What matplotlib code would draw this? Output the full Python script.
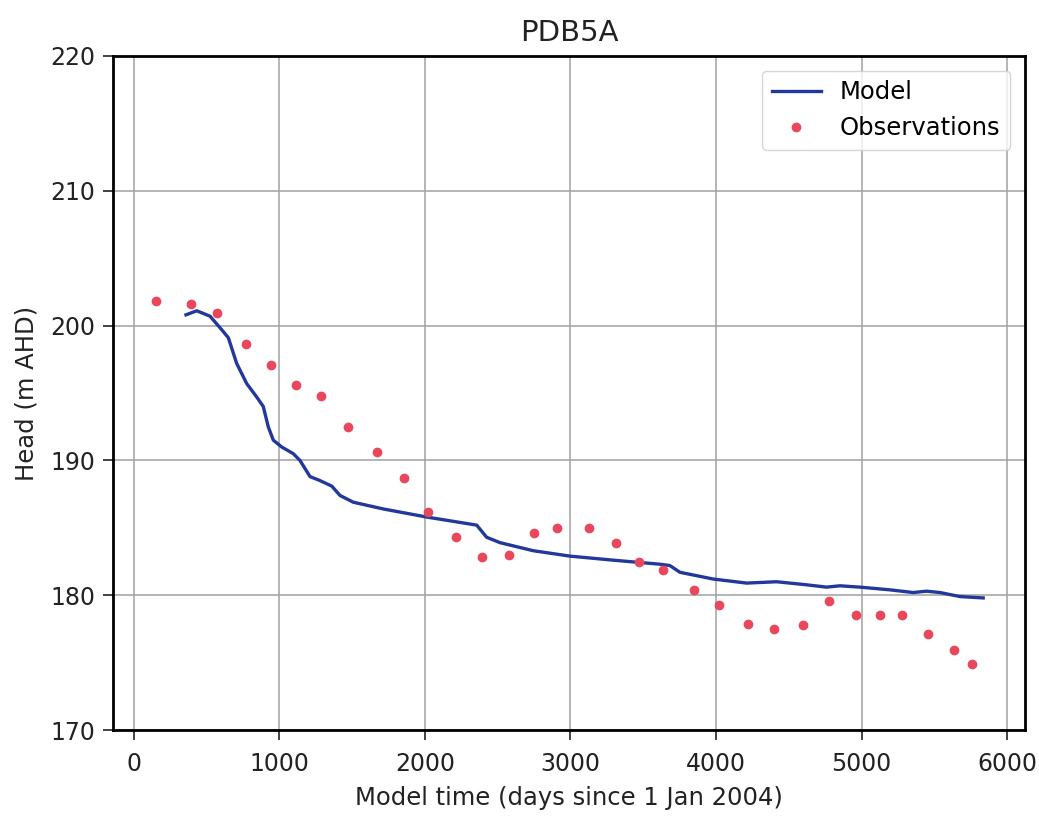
import matplotlib
matplotlib.use("Agg")
import matplotlib.pyplot as plt

# Observations (days since 1 Jan 2004, head m AHD)
obs_days = [153, 391, 570, 769, 943, 1117, 1288, 1474, 1669, 1857, 2024, 2214,
            2390, 2578, 2751, 2905, 3129, 3310, 3473, 3637, 3848, 4022, 4217, 4398,
            4599, 4776, 4964, 5126, 5277, 5457, 5634, 5760]
obs_head = [201.8, 201.6, 200.9, 198.6, 197.1, 195.6, 194.8, 192.5, 190.6, 188.7, 186.2, 184.3,
            182.85, 182.95, 184.6, 185.0, 185.0, 183.9, 182.5, 181.9, 180.4, 179.3, 177.9, 177.5,
            177.8, 179.6, 178.5, 178.5, 178.5, 177.1, 175.9, 174.9]

# Model series
model_days = [359, 433, 524, 604, 650, 707, 776, 845, 890, 924, 959, 1016, 1096, 1142,
              1211, 1280, 1360, 1417, 1508, 1714, 2012, 2356, 2424, 2516, 2745, 2997,
              3294, 3615, 3683, 3752, 3981, 4210, 4416, 4599, 4760, 4851, 4988, 5194,
              5354, 5446, 5538, 5676, 5835]
model_head = [200.8, 201.1, 200.7, 199.7, 199.1, 197.2, 195.7, 194.7, 194.0, 192.5, 191.5,
              191.0, 190.5, 190.0, 188.8, 188.5, 188.1, 187.4, 186.9, 186.4, 185.8, 185.2,
              184.3, 183.9, 183.3, 182.9, 182.6, 182.3, 182.2, 181.7, 181.2, 180.9, 181.0,
              180.8, 180.6, 180.7, 180.6, 180.4, 180.2, 180.3, 180.2, 179.9, 179.8]

fig = plt.figure(figsize=(10.39, 8.21), dpi=100)
ax = fig.add_axes([0.1088, 0.1108, 0.8777, 0.821])

ax.plot(model_days, model_head, color="#22389a", lw=2.4, label="Model", zorder=3)
ax.plot(obs_days, obs_head, "o", color="#e8475c", ms=6, label="Observations", zorder=4)

ax.set_xlim(-142, 6122)
ax.set_ylim(170, 220)
ax.set_xticks(range(0, 6001, 1000))
ax.set_yticks(range(170, 221, 10))
ax.grid(True, color="#a0a0a0", lw=1.1)

for s in ax.spines.values():
    s.set_linewidth(2)
    s.set_color("black")

ax.tick_params(labelsize=17, length=7, width=1.2, colors="#222222")
ax.tick_params(axis="x", pad=9)
ax.tick_params(axis="y", pad=6)
ax.set_xlabel("Model time (days since 1 Jan 2004)", fontsize=17.5, color="#222222", labelpad=7)
ax.set_ylabel("Head (m AHD)", fontsize=17.5, color="#222222", labelpad=8)
ax.set_title("PDB5A", fontsize=21, pad=11, color="#222222")
ax.legend(loc="upper right", fontsize=17.5, framealpha=0.8, borderaxespad=0.6)

fig.savefig("out.png", dpi=100)
